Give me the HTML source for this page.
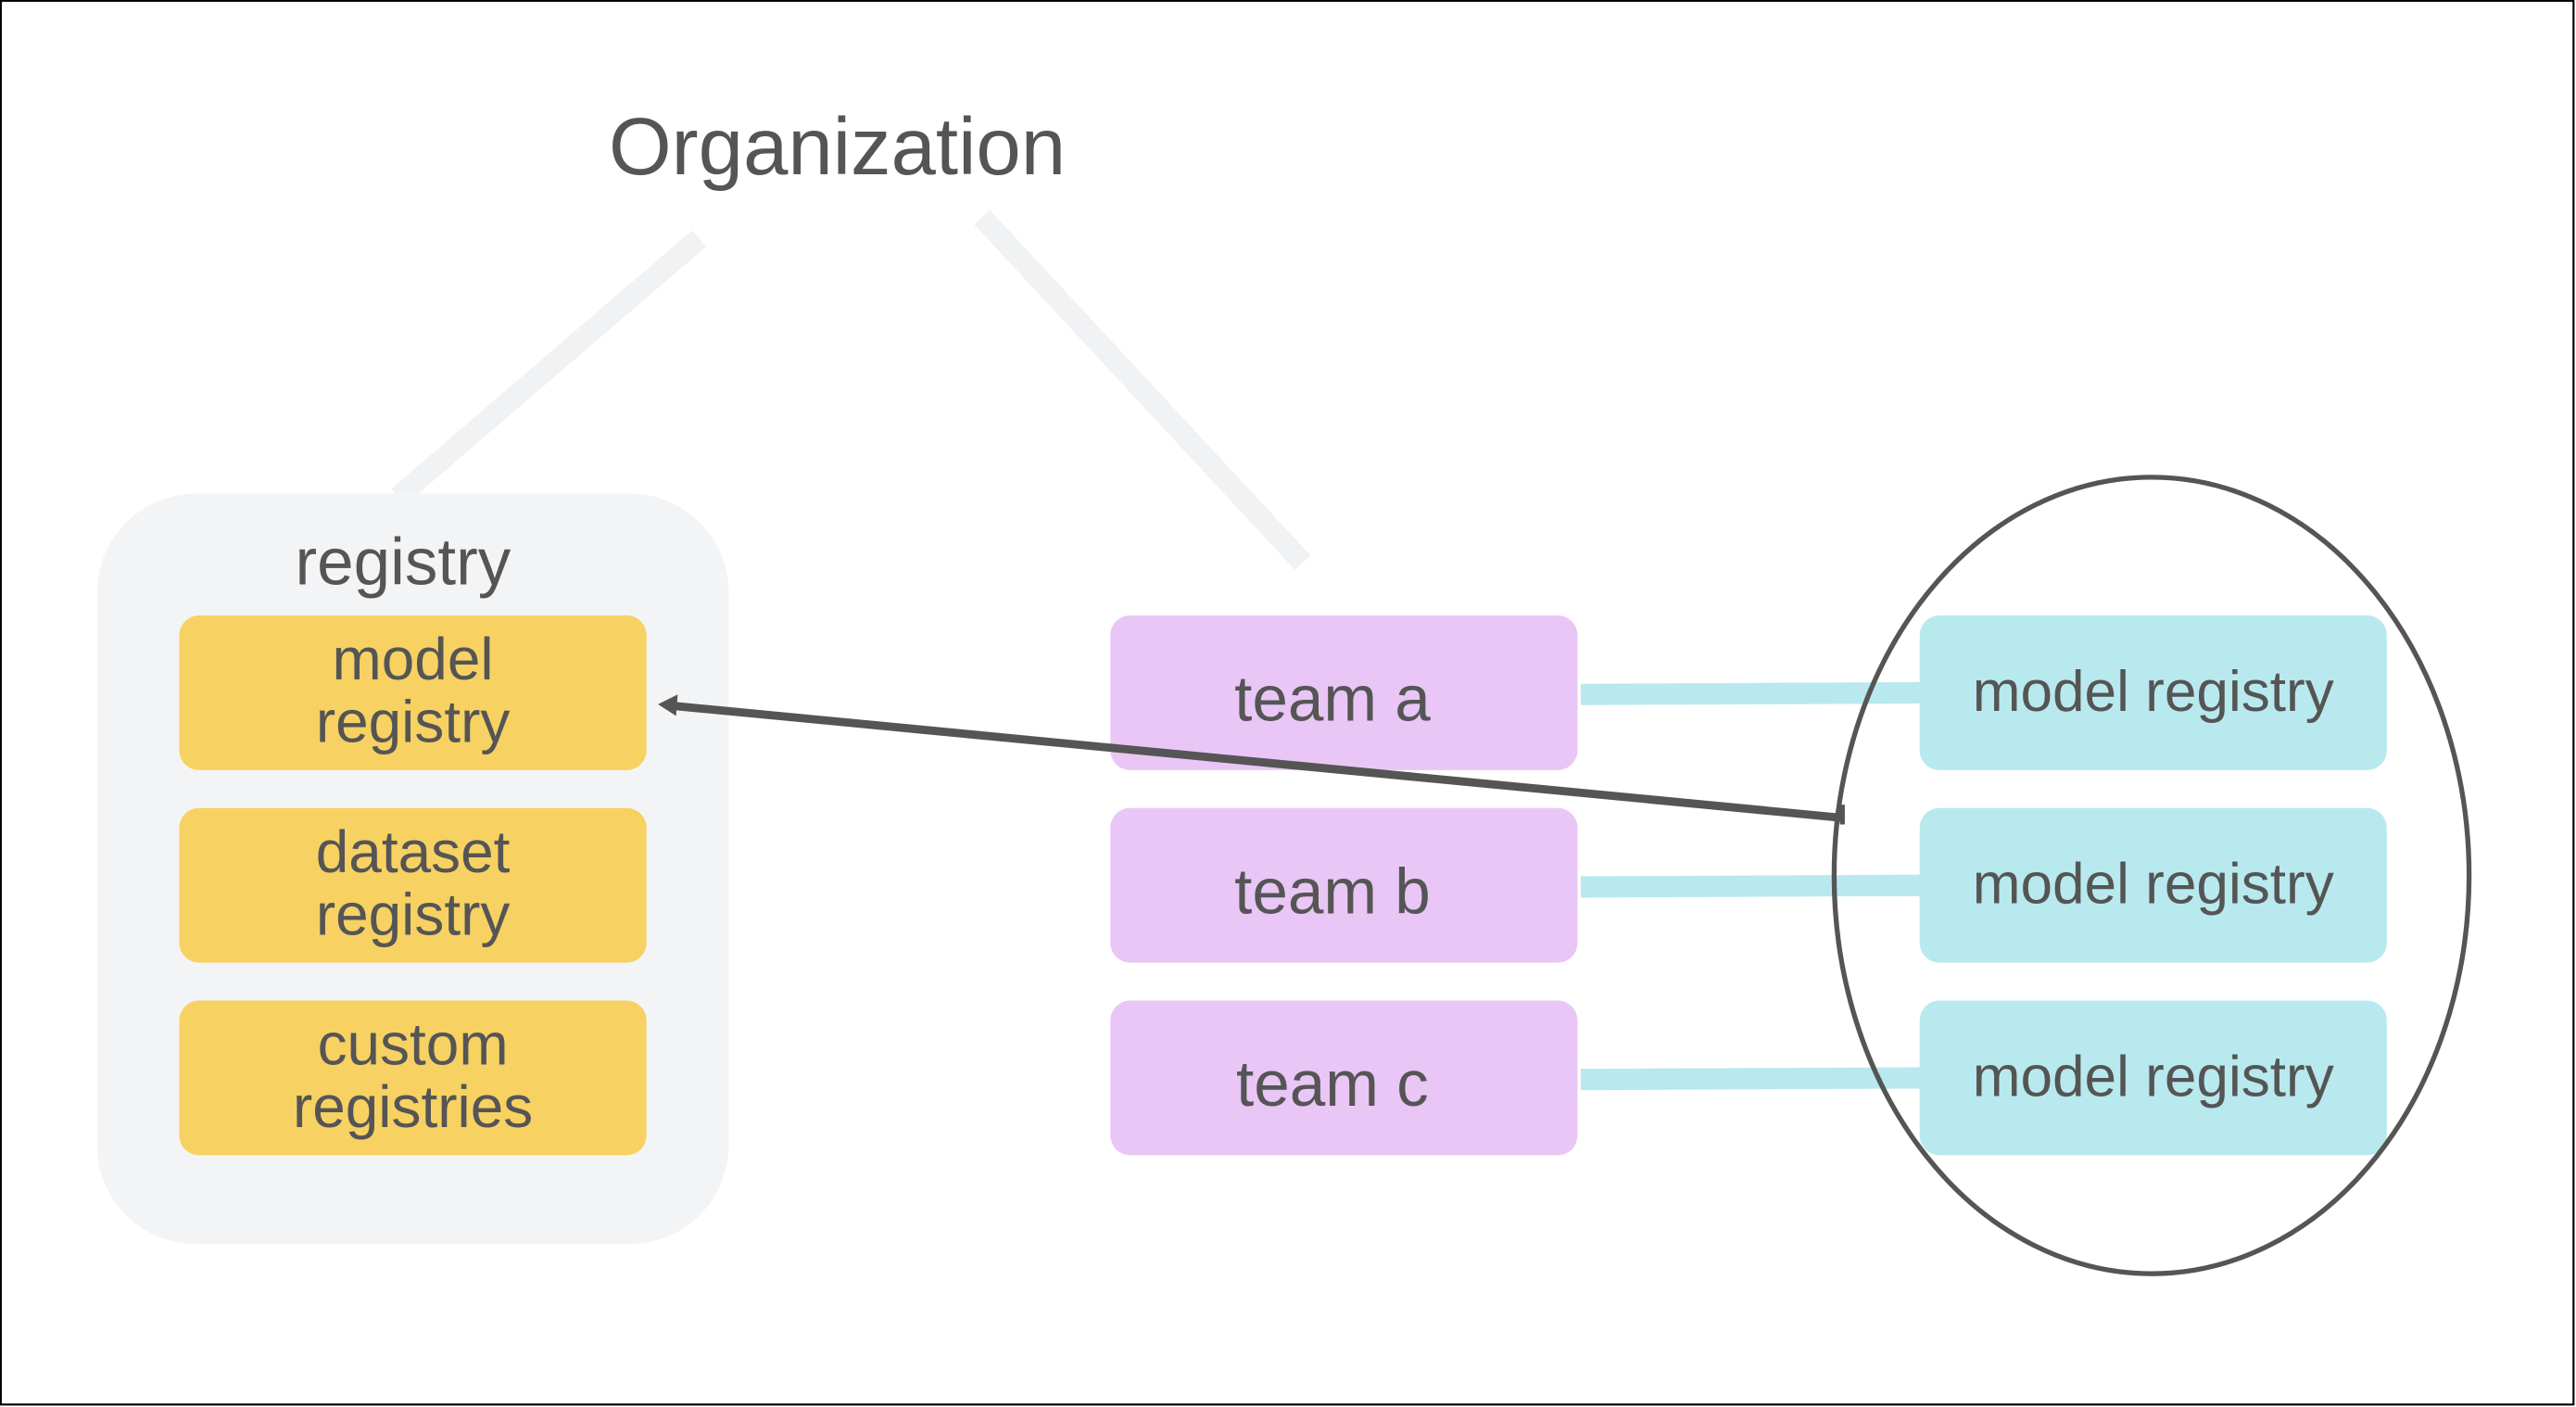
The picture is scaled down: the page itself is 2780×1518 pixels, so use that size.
<!DOCTYPE html>
<html><head><meta charset="utf-8"><style>
html,body{margin:0;padding:0;background:#fff;}
svg{display:block;}
text{font-family:"Liberation Sans",sans-serif;fill:#555;}
</style></head><body>
<svg width="2780" height="1518" viewBox="0 0 1566 855" preserveAspectRatio="none" xmlns="http://www.w3.org/2000/svg">
<rect x="0.5" y="0.5" width="1564" height="853" fill="#fff" stroke="#000" stroke-width="1.2"/>
<text x="509" y="106" font-size="49" text-anchor="middle">Organization</text>
<line x1="425" y1="145" x2="242" y2="302" stroke="#f1f2f4" stroke-width="13"/>
<line x1="597" y1="132" x2="792" y2="342" stroke="#f1f2f4" stroke-width="13"/>
<rect x="59" y="300" width="384" height="456" rx="60" fill="#f3f4f6"/>
<text x="245" y="355" font-size="40" text-anchor="middle">registry</text>
<g fill="#f7d162">
<rect x="109" y="374" width="284" height="94" rx="12"/>
<rect x="109" y="491" width="284" height="94" rx="12"/>
<rect x="109" y="608" width="284" height="94" rx="12"/>
</g>
<g font-size="36" text-anchor="middle">
<text x="251" y="413">model</text><text x="251" y="451">registry</text>
<text x="251" y="530">dataset</text><text x="251" y="568">registry</text>
<text x="251" y="647">custom</text><text x="251" y="685">registries</text>
</g>
<g stroke="#b8e9ee" stroke-width="13">
<line x1="961" y1="422" x2="1170" y2="421"/>
<line x1="961" y1="539" x2="1170" y2="538"/>
<line x1="961" y1="656" x2="1170" y2="655"/>
</g>
<g fill="#e9c6f5">
<rect x="675" y="374" width="284" height="94" rx="12"/>
<rect x="675" y="491" width="284" height="94" rx="12"/>
<rect x="675" y="608" width="284" height="94" rx="12"/>
</g>
<g font-size="39" text-anchor="middle">
<text x="810" y="438">team a</text>
<text x="810" y="555">team b</text>
<text x="810" y="672">team c</text>
</g>
<g fill="#b8e9ee">
<rect x="1167" y="374" width="284" height="94" rx="12"/>
<rect x="1167" y="491" width="284" height="94" rx="12"/>
<rect x="1167" y="608" width="284" height="94" rx="12"/>
</g>
<g font-size="35" text-anchor="middle">
<text x="1309" y="432">model registry</text>
<text x="1309" y="549">model registry</text>
<text x="1309" y="666">model registry</text>
</g>
<ellipse cx="1308" cy="532" rx="193" ry="242" fill="none" stroke="#555" stroke-width="3"/>
<line x1="1120" y1="497" x2="410" y2="429" stroke="#555" stroke-width="5"/>
<line x1="1120" y1="489" x2="1120" y2="501" stroke="#555" stroke-width="3"/>
<polygon points="400,428 412,422 411,435" fill="#555"/>
</svg>
</body></html>
